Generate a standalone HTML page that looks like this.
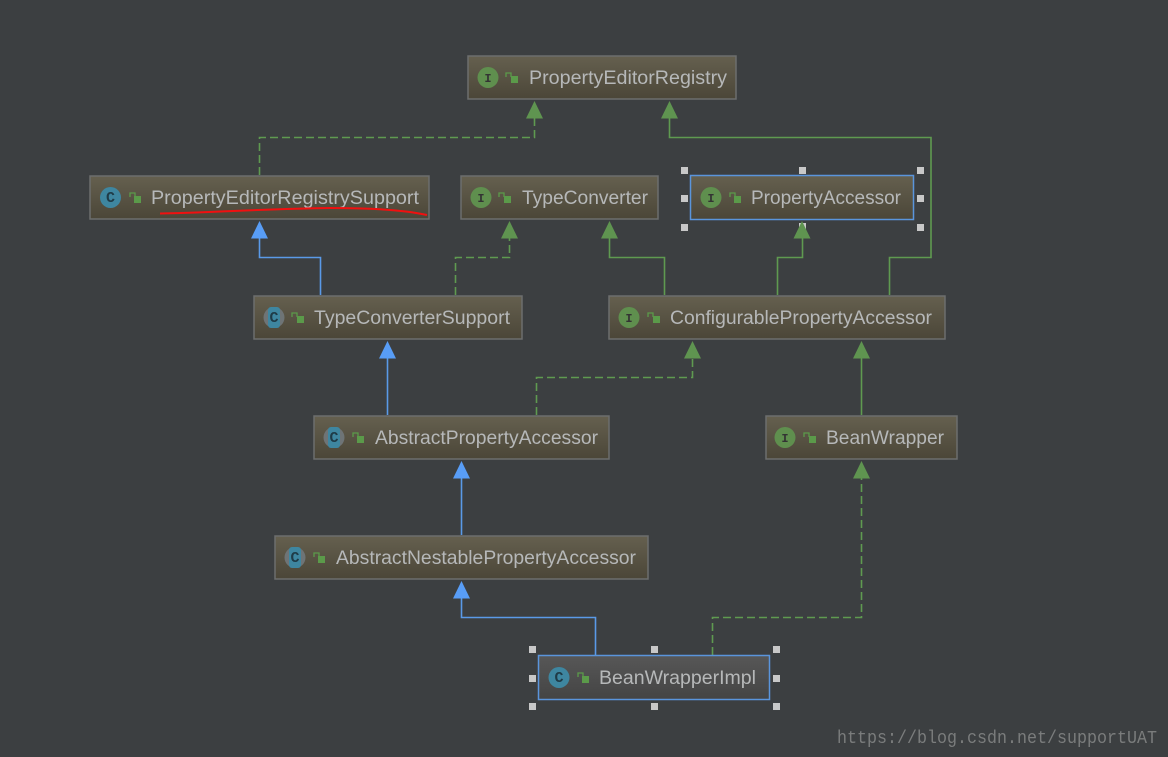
<!DOCTYPE html>
<html>
<head>
<meta charset="utf-8">
<style>
html,body{margin:0;padding:0;background:#3c3f41;width:1168px;height:757px;overflow:hidden}
svg{display:block}
text{font-family:"Liberation Sans",sans-serif}
.t{font-size:19px;fill:#b6b8b9}
.i{font-size:12px;font-weight:bold;fill:#333;font-family:"Liberation Mono",monospace}
.c{font-size:15px;font-weight:bold;fill:#1f3b47;font-family:"Liberation Mono",monospace}
.b{fill:none;stroke:#5a9ae8;stroke-width:1.6}
.g{fill:none;stroke:#5f9a50;stroke-width:1.6}
.d{fill:none;stroke:#5f9a50;stroke-width:1.6;stroke-dasharray:8 4}
.ab{fill:#589df6}
.ag{fill:#5f9450}
.n{stroke:#6c6e6e;stroke-width:1.5;fill:url(#ng)}
.s{stroke:#5a95dc;stroke-width:1.5;fill:url(#ng)}
.h{fill:#c8c8c8}
</style>
</head>
<body>
<svg width="1168" height="757" viewBox="0 0 1168 757" xmlns="http://www.w3.org/2000/svg">
<defs>
<linearGradient id="ng" x1="0" y1="0" x2="0" y2="1"><stop offset="0" stop-color="#65604f"/><stop offset="1" stop-color="#4b4638"/></linearGradient>
<linearGradient id="sg" x1="0" y1="0" x2="0" y2="1"><stop offset="0" stop-color="#575757"/><stop offset="1" stop-color="#444444"/></linearGradient>
</defs>
<rect width="1168" height="757" fill="#3c3f41"/>

<!-- connectors -->
<path class="d" d="M259.500 175V137.500H534.500V112"/>
<path class="g" d="M889.500 295V257.500H931V137.500H669.500V112"/>
<path class="b" d="M320.500 295V257.500H259.500V232"/>
<path class="d" d="M455.500 295V257.500H509.500V232"/>
<path class="g" d="M664.500 295V257.500H609.500V232"/>
<path class="g" d="M777.500 295V257.500H802.500V232"/>
<path class="d" d="M536.500 415V377.500H692.500V352"/>
<path class="b" d="M387.500 415V352"/>
<path class="g" d="M861.500 415V352"/>
<path class="b" d="M461.500 535V472"/>
<path class="b" d="M595.500 655V617.500H461.500V592"/>
<path class="d" d="M712.500 655V617.500H861.500V472"/>

<!-- arrowheads -->
<polygon class="ag" points="534.500,101 526,118.500 543,118.500"/>
<polygon class="ag" points="669.500,101 661,118.500 678,118.500"/>
<polygon class="ab" points="259.500,221 251,238.500 268,238.500"/>
<polygon class="ag" points="509.500,221 501,238.500 518,238.500"/>
<polygon class="ag" points="609.500,221 601,238.500 618,238.500"/>
<polygon class="ab" points="387.500,341 379,358.500 396,358.500"/>
<polygon class="ag" points="692.500,341 684,358.500 701,358.500"/>
<polygon class="ag" points="861.500,341 853,358.500 870,358.500"/>
<polygon class="ab" points="461.500,461 453,478.500 470,478.500"/>
<polygon class="ab" points="461.500,581 453,598.500 470,598.500"/>
<polygon class="ag" points="861.500,461 853,478.500 870,478.500"/>

<!-- PropertyEditorRegistry -->
<rect class="n" x="468" y="56" width="268" height="43"/>
<circle cx="488" cy="77.500" r="10.500" fill="#5f8f4e"/><text class="i" x="488" y="82" text-anchor="middle">I</text>
<path d="M506 77v-4h5v4" fill="none" stroke="#5b9a4a" stroke-width="1.300"/><rect x="511" y="76" width="7" height="7" fill="#5b9a4a"/>
<text class="t" x="529" y="84" textLength="198" lengthAdjust="spacingAndGlyphs">PropertyEditorRegistry</text>

<!-- PropertyEditorRegistrySupport -->
<rect class="n" x="90" y="176" width="339" height="43"/>
<circle cx="110.500" cy="197.500" r="10.500" fill="#3e86a0"/><text class="c" x="110.500" y="202" text-anchor="middle">C</text>
<path d="M130 197v-4h5v4" fill="none" stroke="#5b9a4a" stroke-width="1.300"/><rect x="134" y="196" width="7" height="7" fill="#5b9a4a"/>
<text class="t" x="151" y="204" textLength="268" lengthAdjust="spacingAndGlyphs">PropertyEditorRegistrySupport</text>
<path d="M160 213.500C200 213 260 209 330 208C370 208 405 210 427 215" fill="none" stroke="#f01010" stroke-width="2"/>

<!-- TypeConverter -->
<rect class="n" x="461" y="176" width="197" height="43"/>
<circle cx="481" cy="197.500" r="10.500" fill="#5f8f4e"/><text class="i" x="481" y="202" text-anchor="middle">I</text>
<path d="M499 197v-4h5v4" fill="none" stroke="#5b9a4a" stroke-width="1.300"/><rect x="504" y="196" width="7" height="7" fill="#5b9a4a"/>
<text class="t" x="522" y="204" textLength="126" lengthAdjust="spacingAndGlyphs">TypeConverter</text>

<!-- PropertyAccessor -->
<rect class="s" x="690.500" y="175.500" width="223" height="44"/>
<circle cx="711" cy="197.500" r="10.500" fill="#5f8f4e"/><text class="i" x="711" y="202" text-anchor="middle">I</text>
<path d="M730 197v-4h5v4" fill="none" stroke="#5b9a4a" stroke-width="1.300"/><rect x="734" y="196" width="7" height="7" fill="#5b9a4a"/>
<text class="t" x="751" y="204" textLength="150" lengthAdjust="spacingAndGlyphs">PropertyAccessor</text>
<rect class="h" x="681" y="167" width="7" height="7"/><rect class="h" x="799" y="167" width="7" height="7"/><rect class="h" x="917" y="167" width="7" height="7"/>
<rect class="h" x="681" y="195" width="7" height="7"/><rect class="h" x="917" y="195" width="7" height="7"/>
<rect class="h" x="681" y="224" width="7" height="7"/><rect class="h" x="799" y="223" width="7" height="7"/><rect class="h" x="917" y="224" width="7" height="7"/>
<polygon class="ag" points="802,221 793.500,238.500 810.500,238.500"/>

<!-- TypeConverterSupport -->
<rect class="n" x="254" y="296" width="268" height="43"/>
<circle cx="274" cy="317.500" r="10.500" fill="#6e7476"/><rect x="268" y="307" width="12" height="21" rx="3" fill="#3e86a0"/><text class="c" x="274" y="322" text-anchor="middle">C</text>
<path d="M292 317v-4h5v4" fill="none" stroke="#5b9a4a" stroke-width="1.300"/><rect x="297" y="316" width="7" height="7" fill="#5b9a4a"/>
<text class="t" x="314" y="324" textLength="196" lengthAdjust="spacingAndGlyphs">TypeConverterSupport</text>

<!-- ConfigurablePropertyAccessor -->
<rect class="n" x="609" y="296" width="336" height="43"/>
<circle cx="629" cy="317.500" r="10.500" fill="#5f8f4e"/><text class="i" x="629" y="322" text-anchor="middle">I</text>
<path d="M648 317v-4h5v4" fill="none" stroke="#5b9a4a" stroke-width="1.300"/><rect x="653" y="316" width="7" height="7" fill="#5b9a4a"/>
<text class="t" x="670" y="324" textLength="262" lengthAdjust="spacingAndGlyphs">ConfigurablePropertyAccessor</text>

<!-- AbstractPropertyAccessor -->
<rect class="n" x="314" y="416" width="295" height="43"/>
<circle cx="334" cy="437.500" r="10.500" fill="#6e7476"/><rect x="328" y="427" width="12" height="21" rx="3" fill="#3e86a0"/><text class="c" x="334" y="442" text-anchor="middle">C</text>
<path d="M353 437v-4h5v4" fill="none" stroke="#5b9a4a" stroke-width="1.300"/><rect x="357" y="436" width="7" height="7" fill="#5b9a4a"/>
<text class="t" x="375" y="444" textLength="223" lengthAdjust="spacingAndGlyphs">AbstractPropertyAccessor</text>

<!-- BeanWrapper -->
<rect class="n" x="766" y="416" width="191" height="43"/>
<circle cx="785" cy="437.500" r="10.500" fill="#5f8f4e"/><text class="i" x="785" y="442" text-anchor="middle">I</text>
<path d="M804 437v-4h5v4" fill="none" stroke="#5b9a4a" stroke-width="1.300"/><rect x="809" y="436" width="7" height="7" fill="#5b9a4a"/>
<text class="t" x="826" y="444" textLength="118" lengthAdjust="spacingAndGlyphs">BeanWrapper</text>

<!-- AbstractNestablePropertyAccessor -->
<rect class="n" x="275" y="536" width="373" height="43"/>
<circle cx="295" cy="557.500" r="10.500" fill="#6e7476"/><rect x="289" y="547" width="12" height="21" rx="3" fill="#3e86a0"/><text class="c" x="295" y="562" text-anchor="middle">C</text>
<path d="M314 557v-4h5v4" fill="none" stroke="#5b9a4a" stroke-width="1.300"/><rect x="318" y="556" width="7" height="7" fill="#5b9a4a"/>
<text class="t" x="336" y="564" textLength="300" lengthAdjust="spacingAndGlyphs">AbstractNestablePropertyAccessor</text>

<!-- BeanWrapperImpl -->
<rect x="538.500" y="655.500" width="231" height="44" fill="url(#sg)" stroke="#5a95dc" stroke-width="1.500"/>
<circle cx="559" cy="677.500" r="10.500" fill="#3e86a0"/><text class="c" x="559" y="682" text-anchor="middle">C</text>
<path d="M578 677v-4h5v4" fill="none" stroke="#5b9a4a" stroke-width="1.300"/><rect x="582" y="676" width="7" height="7" fill="#5b9a4a"/>
<text class="t" x="599" y="684" textLength="157" lengthAdjust="spacingAndGlyphs">BeanWrapperImpl</text>
<rect class="h" x="529" y="646" width="7" height="7"/><rect class="h" x="651" y="646" width="7" height="7"/><rect class="h" x="773" y="646" width="7" height="7"/>
<rect class="h" x="529" y="675" width="7" height="7"/><rect class="h" x="773" y="675" width="7" height="7"/>
<rect class="h" x="529" y="703" width="7" height="7"/><rect class="h" x="651" y="703" width="7" height="7"/><rect class="h" x="773" y="703" width="7" height="7"/>

<!-- watermark -->
<text x="837" y="743" textLength="320" lengthAdjust="spacingAndGlyphs" style="font-family:'Liberation Mono',monospace;font-size:18px;fill:#7a7c7c">https://blog.csdn.net/supportUAT</text>
</svg>
</body>
</html>
